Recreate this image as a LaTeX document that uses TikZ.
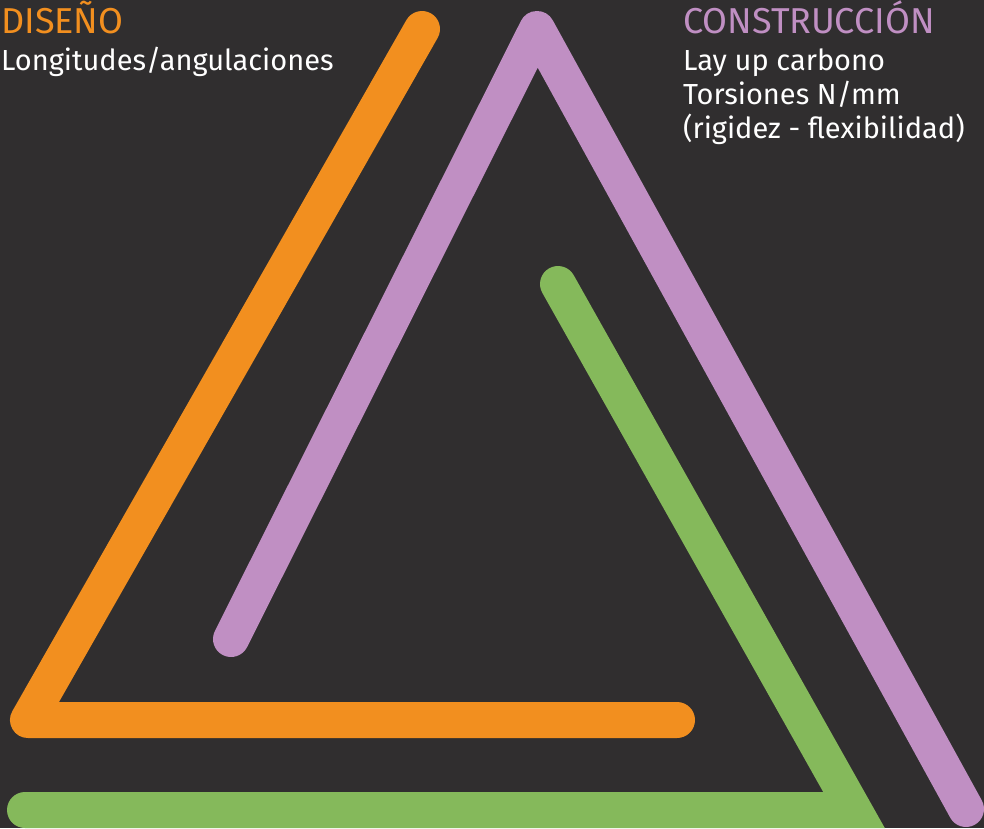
\documentclass[tikz,border=0pt]{standalone}
\usepackage{fontspec}
\setmainfont{Fira Sans}
\definecolor{bgdark}{HTML}{302E2F}
\definecolor{diseno}{HTML}{F28F1F}
\definecolor{constr}{HTML}{C08FC3}
\definecolor{verde}{HTML}{85B95B}
\begin{document}
\begin{tikzpicture}[
        x=1pt, y=-1pt,
        band/.style = {line width=36pt, line cap=round, line join=round},
        head/.style = {anchor=base west, inner sep=0pt, font=\fontsize{36}{40}\selectfont},
        body/.style = {anchor=base west, inner sep=0pt, text=white, font=\fontsize{29}{34}\selectfont}
    ]
        \fill[bgdark] (0,0) rectangle (984,828);
        \useasboundingbox (0,0) rectangle (984,828);
        % orange
        \coordinate (o1) at (422,29);
        \coordinate (o2) at (28,720);
        \coordinate (o3) at (677,720);
        \draw[band, diseno] (o1) -- (o2) -- (o3);
        % purple
        \coordinate (p1) at (231,639);
        \coordinate (p2) at (537,29);
        \coordinate (p3) at (966,809);
        \draw[band, constr] (p1) -- (p2) -- (p3);
        % green
        \coordinate (g1) at (558,284);
        \coordinate (g2) at (854,810);
        \coordinate (g3) at (25,810);
        \draw[band, verde, line join=miter] (g1) -- (g2) -- (g3);
        % labels
        \node[head, text=diseno] (dis) at (1,33) {DISEÑO};
        \node[body] (dis1) at (1,70) {Longitudes/angulaciones};
        \node[head, text=constr] (con) at (683,33) {CONSTRUCCIÓN};
        \node[body] (con1) at (683,70) {Lay up carbono};
        \node[body] (con2) at (683,104) {Torsiones N/mm};
        \node[body] (con3) at (683,138) {(rigidez - flexibilidad)};
    \end{tikzpicture}
\end{document}
